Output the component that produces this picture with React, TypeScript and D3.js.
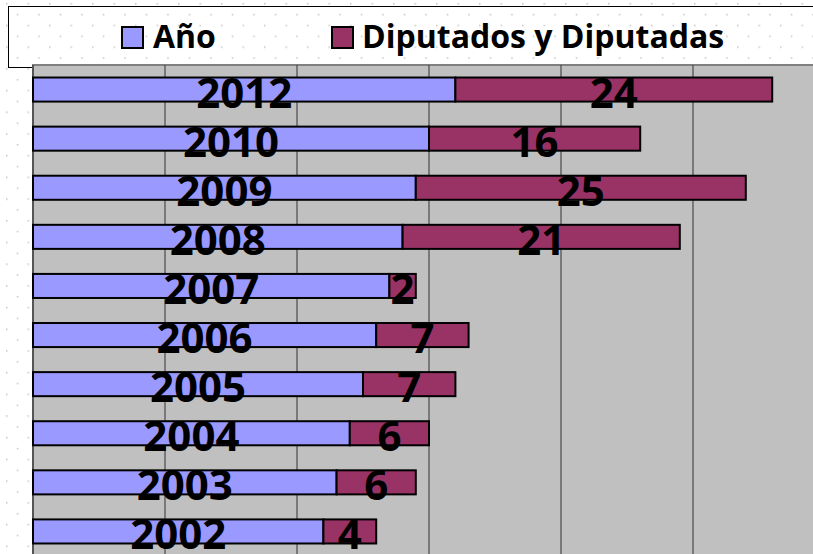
import React from 'react';
import * as d3 from 'd3';

// datos
const years = [2002, 2003, 2004, 2005, 2006, 2007, 2008, 2009, 2010, 2012];
const diputados = [4, 6, 6, 7, 7, 2, 21, 25, 16, 24];
const seriesNames = ['Año', 'Diputados y Diputadas'];
const seriesColors = ['#9999FF', '#993366'];
const xDomain: [number, number] = [1980, 2040];
const xTicks = [1980, 1990, 2000, 2010, 2020, 2030, 2040];

const App = () => {
  const width = 813;
  const height = 554;
  const plot = { left: 33, top: 65, right: 825, bottom: 556 };

  const x = d3.scaleLinear().domain(xDomain).range([plot.left, plot.right]);
  const y = d3
    .scaleBand<number>()
    .domain([...years].reverse())
    .range([plot.top, plot.bottom])
    .paddingInner(0.51)
    .paddingOuter(0.255);

  const font = "'Open Sans', 'Liberation Sans', sans-serif";

  return (
    <svg
      width={width}
      height={height}
      style={{ position: 'absolute', left: 0, top: 0, display: 'block' }}
    >
      <defs>
        <pattern id="dots" width={21.5} height={21.7} patternUnits="userSpaceOnUse" x={6} y={3}>
          <rect x={0} y={0} width={1.5} height={1.5} fill="#c4c4c4" />
          <rect x={10.75} y={10.85} width={1.5} height={1.5} fill="#c4c4c4" />
        </pattern>
      </defs>

      {/* fondo */}
      <rect x={0} y={0} width={width} height={height} fill="#ffffff" />
      <rect x={0} y={0} width={width} height={height} fill="url(#dots)" />

      {/* leyenda */}
      <rect x={8.5} y={6.5} width={830} height={61} fill="none" stroke="#000" strokeWidth={1} />
      <rect x={122} y={27} width={21} height={21} fill={seriesColors[0]} stroke="#000" strokeWidth={2} />
      <text x={153} y={48} fontFamily={font} fontWeight={700} fontSize={32} fill="#000">
        {seriesNames[0]}
      </text>
      <rect x={332} y={27} width={21} height={21} fill={seriesColors[1]} stroke="#000" strokeWidth={2} />
      <text x={362} y={48} fontFamily={font} fontWeight={700} fontSize={32} fill="#000">
        {seriesNames[1]}
      </text>

      {/* área de trazado */}
      <rect
        x={plot.left}
        y={plot.top}
        width={plot.right - plot.left}
        height={plot.bottom - plot.top}
        fill="#c0c0c0"
        stroke="#808080"
        strokeWidth={2}
      />
      {xTicks.map((t) => (
        <line key={t} x1={x(t)} x2={x(t)} y1={plot.top} y2={plot.bottom} stroke="#333" strokeWidth={1} />
      ))}
      <line x1={plot.left} x2={plot.left} y1={plot.top} y2={plot.bottom} stroke="#555" strokeWidth={2} />

      {/* barras */}
      {years.map((yr, i) => {
        const y0 = y(yr) ?? 0;
        const bw = y.bandwidth();
        const end = yr + diputados[i];
        return (
          <g key={yr}>
            <rect
              x={x(xDomain[0])}
              y={y0}
              width={x(yr) - x(xDomain[0])}
              height={bw}
              fill={seriesColors[0]}
              stroke="#000"
              strokeWidth={2}
            />
            <rect
              x={x(yr)}
              y={y0}
              width={x(end) - x(yr)}
              height={bw}
              fill={seriesColors[1]}
              stroke="#000"
              strokeWidth={2}
            />
          </g>
        );
      })}

      {/* etiquetas */}
      {years.map((yr, i) => {
        const y0 = y(yr) ?? 0;
        const base = y0 + y.bandwidth() + 6;
        const end = yr + diputados[i];
        return (
          <g key={'l' + yr} fontFamily={font} fontWeight={700} fontSize={42} fill="#000" textAnchor="middle">
            <text x={(x(xDomain[0]) + x(yr)) / 2} y={base}>
              {yr}
            </text>
            <text x={(x(yr) + x(end)) / 2} y={base}>
              {diputados[i]}
            </text>
          </g>
        );
      })}
    </svg>
  );
};

export default App;
